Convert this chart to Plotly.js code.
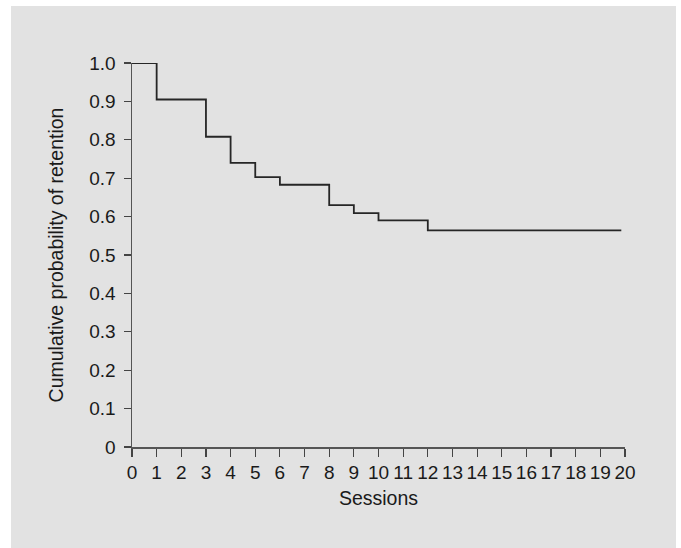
<!DOCTYPE html>
<html>
<head>
<meta charset="utf-8">
<script src="https://cdn.plot.ly/plotly-3.0.1.min.js"></script>
<style>
  html, body { margin: 0; padding: 0; background: #ffffff; }
  #chart { position: absolute; left: 11px; top: 6px; width: 665px; height: 542px; }
</style>
</head>
<body>
<div id="chart"></div>
<script>
// Kaplan-Meier style retention curve (step function)
const sessions = [0, 1, 3, 4, 5, 6, 8, 9, 10, 12, 19.85];
const retention = [1.0, 0.905, 0.808, 0.740, 0.703, 0.683, 0.630, 0.609, 0.590, 0.564, 0.564];

const xTickVals = [0,1,2,3,4,5,6,7,8,9,10,11,12,13,14,15,16,17,18,19,20];
const xTickText = xTickVals.map(String);
const yTickVals = [0, 0.1, 0.2, 0.3, 0.4, 0.5, 0.6, 0.7, 0.8, 0.9, 1.0];
const yTickText = ['0', '0.1', '0.2', '0.3', '0.4', '0.5', '0.6', '0.7', '0.8', '0.9', '1.0'];

const xTitle = 'Sessions';
const yTitle = 'Cumulative probability of retention';

const tickFont = { family: '"Liberation Sans", Arial, sans-serif', size: 19, color: '#1a1a1a' };
const titleFont = { family: '"Liberation Sans", Arial, sans-serif', size: 19.5, color: '#1a1a1a' };

const trace = {
  x: sessions,
  y: retention,
  type: 'scatter',
  mode: 'lines',
  line: { shape: 'hv', color: '#262626', width: 1.8 },
  cliponaxis: false,
  hoverinfo: 'skip',
  showlegend: false
};

const layout = {
  width: 665,
  height: 542,
  margin: { l: 121, r: 51, t: 57, b: 101 },
  paper_bgcolor: '#e2e2e2',
  plot_bgcolor: '#e2e2e2',
  font: tickFont,
  showlegend: false,
  xaxis: {
    range: [0, 20],
    tickvals: xTickVals,
    ticktext: xTickText,
    ticks: 'outside',
    ticklen: 8,
    tickwidth: 1.2,
    tickcolor: '#444',
    showline: true,
    linecolor: '#555',
    linewidth: 1.5,
    showgrid: false,
    zeroline: false,
    tickfont: tickFont,
    ticklabelstandoff: 0,
    title: { text: xTitle, font: titleFont, standoff: 9 },
    fixedrange: true
  },
  yaxis: {
    range: [0, 1],
    tickvals: yTickVals,
    ticktext: yTickText,
    ticks: 'outside',
    ticklen: 7,
    tickwidth: 1.2,
    tickcolor: '#444',
    showline: true,
    linecolor: '#555',
    linewidth: 1.5,
    showgrid: false,
    zeroline: false,
    tickfont: tickFont,
    ticklabelstandoff: 4,
    title: { text: yTitle, font: titleFont, standoff: 20 },
    fixedrange: true
  }
};

Plotly.newPlot('chart', [trace], layout, { staticPlot: true, displayModeBar: false });
</script>
</body>
</html>
